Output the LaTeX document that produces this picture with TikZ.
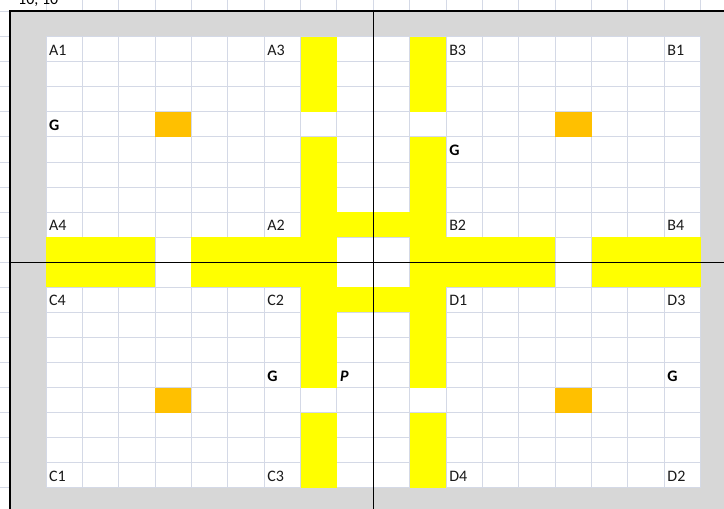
\documentclass[tikz,border=0pt]{standalone}
\usepackage{fontspec}
\setmainfont{Carlito}
\definecolor{gridc}{HTML}{D4D9E6}
\definecolor{grayc}{HTML}{D7D7D7}
\definecolor{yel}{HTML}{FFFF00}
\definecolor{org}{HTML}{FFC000}
\definecolor{txt}{HTML}{1A1A1A}
\newcommand\cellfill[5]{\fill[#1] ({46+36.37*(#2)},{36.7+25.06*(#3)}) rectangle ({46+36.37*(#4+1)},{36.7+25.06*(#5+1)});}
\begin{document}
\begin{tikzpicture}[x=1pt,y=-1pt,
  lbl/.style={anchor=base west,inner sep=0pt,text=txt,font=\fontsize{16}{18}\selectfont},
  blbl/.style={lbl,text=black,font=\fontsize{16}{18}\selectfont\bfseries},
  gline/.style={draw=gridc,line width=1pt},
  axis/.style={draw=black,line width=1.6pt}]
\useasboundingbox (0,0) rectangle (724,509);
\fill[white] (0,0) rectangle (724,509);
% outside faint gridlines
\foreach \i in {0,...,18} \draw[gline] ({46+36.37*\i},0) -- ({46+36.37*\i},11);
\foreach \j in {0,...,18} \draw[gline] (0,{36.7+25.06*\j}) -- (9,{36.7+25.06*\j});
\draw[gline] (0,11) -- (9,11);
% clipped header text
\begin{scope}
\clip (0,0) rectangle (724,10);
\node[lbl,text=black] (hdr) at (18,4.5) {10, 10};
\end{scope}
% gray margin and white sheet
\fill[grayc] (9,11) rectangle (724,509);
\fill[white] (46,36.7) rectangle (700.7,487.7);
\foreach \i in {0,...,18} \draw[gline] ({46+36.37*\i},36.7) -- ({46+36.37*\i},487.7);
\foreach \j in {0,...,18} \draw[gline] (46,{36.7+25.06*\j}) -- (700.7,{36.7+25.06*\j});
% yellow cells
\cellfill{yel}{7}{0}{7}{2}
\cellfill{yel}{10}{0}{10}{2}
\cellfill{yel}{7}{4}{7}{13}
\cellfill{yel}{10}{4}{10}{13}
\cellfill{yel}{7}{15}{7}{17}
\cellfill{yel}{10}{15}{10}{17}
\cellfill{yel}{7}{7}{10}{7}
\cellfill{yel}{7}{10}{10}{10}
\cellfill{yel}{0}{8}{2}{9}
\cellfill{yel}{4}{8}{7}{9}
\cellfill{yel}{10}{8}{13}{9}
\cellfill{yel}{15}{8}{17}{9}
% orange cells
\cellfill{org}{3}{3}{3}{3}
\cellfill{org}{14}{3}{14}{3}
\cellfill{org}{3}{14}{3}{14}
\cellfill{org}{14}{14}{14}{14}
% labels
\foreach \t/\c/\r/\n in {A1/0/0/a1, A3/6/0/a3, B3/11/0/b3, B1/17/0/b1,
  A4/0/7/a4, A2/6/7/a2, B2/11/7/b2, B4/17/7/b4,
  C4/0/10/c4, C2/6/10/c2, D1/11/10/d1, D3/17/10/d3,
  C1/0/17/c1, C3/6/17/c3, D4/11/17/d4, D2/17/17/d2}
  \node[lbl] (\n) at ({46+36.37*\c+3},{36.7+25.06*(\r+1)-6.5}) {\t};
\foreach \c/\r/\n in {0/3/g1, 11/4/g2, 6/13/g3, 17/13/g4}
  \node[blbl] (\n) at ({46+36.37*\c+3},{36.7+25.06*(\r+1)-6.5}) {G};
\node[blbl,font=\fontsize{16}{18}\selectfont\bfseries\itshape] (p) at ({46+36.37*8+3},{36.7+25.06*14-6.5}) {P};
% axes
\coordinate (vt) at (373.3,11);
\coordinate (vb) at (373.3,509);
\coordinate (hl) at (9,262.3);
\coordinate (hr) at (724,262.3);
\draw[axis] (vt) -- (vb);
\draw[axis] (hl) -- (hr);
% border
\coordinate (bl) at (9.8,509);
\coordinate (tl) at (9.8,11);
\coordinate (tr) at (724,11);
\draw[black,line width=2.6pt] (bl) -- (tl) -- (tr);
\end{tikzpicture}
\end{document}
